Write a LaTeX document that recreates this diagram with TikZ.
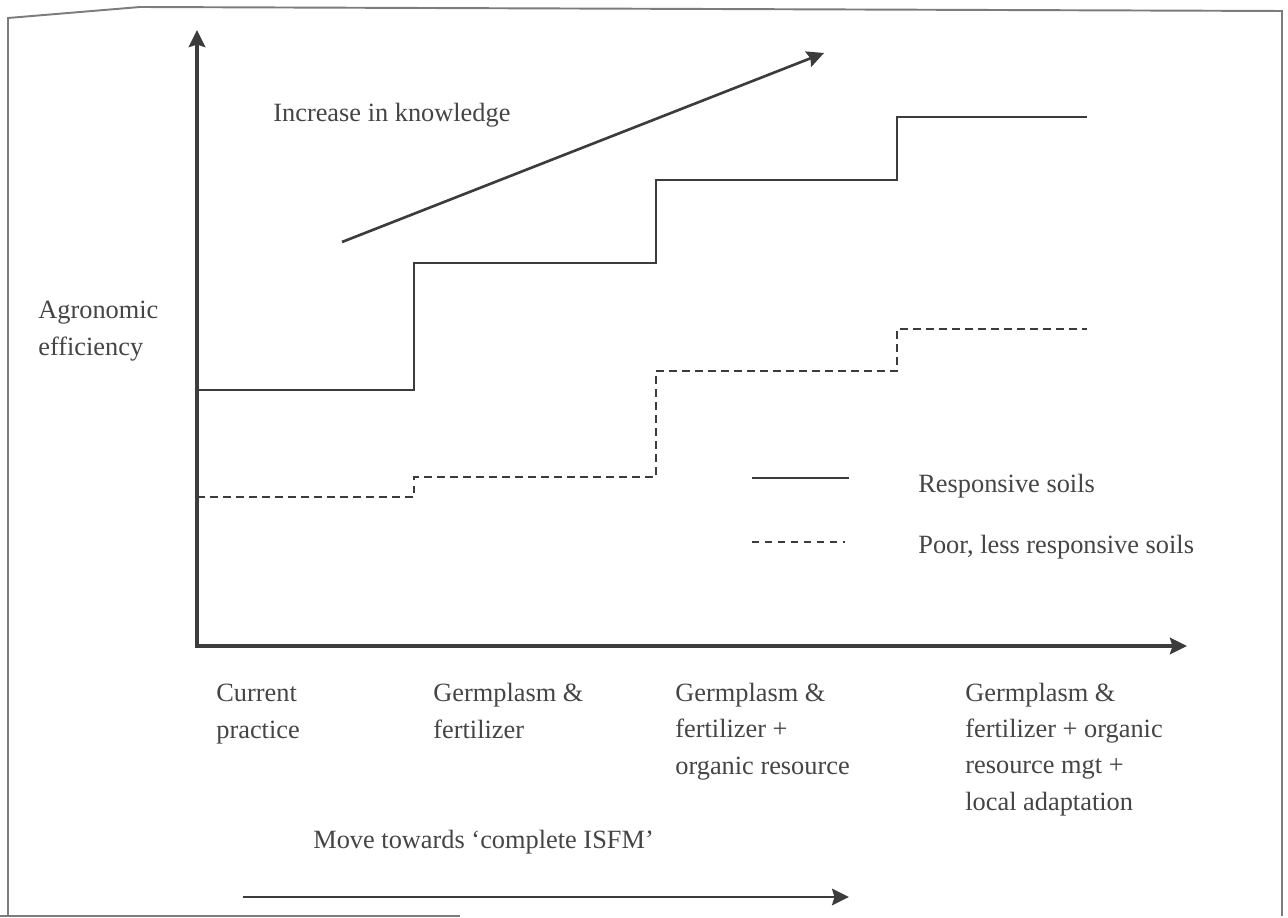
\documentclass[tikz,border=0pt]{standalone}
\usepackage{fontspec}
\setmainfont{Liberation Serif}
\usetikzlibrary{arrows.meta}

\definecolor{inkgray}{HTML}{3C3C3C}
\definecolor{textgray}{HTML}{454545}
\definecolor{framegray}{HTML}{7C7C7C}

\begin{document}
\begin{tikzpicture}[x=0.2mm, y=-0.2mm, >={Stealth[length=3.4mm, width=3.3mm, inset=0.5mm]},
  lbl/.style={inner sep=0pt, anchor=base west, align=left, text=textgray,
              font=\fontsize{15}{20.5}\selectfont},
  axisline/.style={draw=inkgray, line width=2.2pt},
  stairsolid/.style={draw=inkgray, line width=1.1pt},
  stairdashed/.style={draw=inkgray, line width=1.1pt, dash pattern=on 1.5mm off 1.1mm}]

  % ==========================================
  % PAGE : background and scanned frame
  % ==========================================
  \useasboundingbox (0,0) rectangle (1288,918);
  \fill[white] (0,0) rectangle (1288,918);
  \draw[framegray, line width=1.1pt] (8,916) -- (8,18) -- (140,7) -- (1282,11) -- (1282,916);
  \draw[framegray, line width=1.1pt] (0,916) -- (460,916);

  % ==========================================
  % AXES
  % ==========================================
  \coordinate (O) at (197,646);
  \coordinate (ytop) at (197,30);
  \coordinate (xend) at (1187,646);
  \draw[axisline, ->] (197,648) -- (ytop);
  \draw[axisline, ->] (196,646) -- (xend);

  % Axis label (base = last line)
  \node[lbl] (ylabel) at (38,355) {Agronomic\\efficiency};

  % ==========================================
  % STEPS : responsive soils (solid) and poor soils (dashed)
  % ==========================================
  \draw[stairsolid] (197,390) -- (414,390) -- (414,263) -- (656,263) -- (656,180)
    -- (897,180) -- (897,117) -- (1087,117);
  \draw[stairdashed] (197,497) -- (414,497) -- (414,477) -- (656,477) -- (656,371)
    -- (897,371) -- (897,329) -- (1087,329);

  % Knowledge arrow
  \coordinate (kstart) at (342,242);
  \coordinate (kend) at (824,53);
  \draw[inkgray, line width=1.5pt, ->] (kstart) -- (kend);
  \node[lbl] (knowledge) at (273,122) {Increase in knowledge};

  % ==========================================
  % LEGEND
  % ==========================================
  \draw[stairsolid] (752,478) -- (849,478);
  \node[lbl] (legsolid) at (918,492) {Responsive soils};
  \draw[stairdashed, dash pattern=on 1.3mm off 1.3mm] (752,542) -- (845,542);
  \node[lbl] (legdashed) at (918,553) {Poor, less responsive soils};

  % ==========================================
  % STAGES ALONG THE X AXIS (base = last line)
  % ==========================================
  \node[lbl] (xcurrent) at (216,738) {Current\\practice};
  \node[lbl] (xgerm) at (433,738) {Germplasm \&\\fertilizer};
  \node[lbl] (xorganic) at (675,774) {Germplasm \&\\fertilizer +\\organic resource};
  \node[lbl] (xlocal) at (965,810) {Germplasm \&\\fertilizer + organic\\resource mgt +\\local adaptation};

  % Move towards complete ISFM
  \node[lbl] (isfm) at (313,848) {Move towards `complete ISFM'};
  \coordinate (mstart) at (243,897);
  \coordinate (mend) at (849,897);
  \draw[inkgray, line width=1.4pt, ->] (mstart) -- (mend);

\end{tikzpicture}
\end{document}
